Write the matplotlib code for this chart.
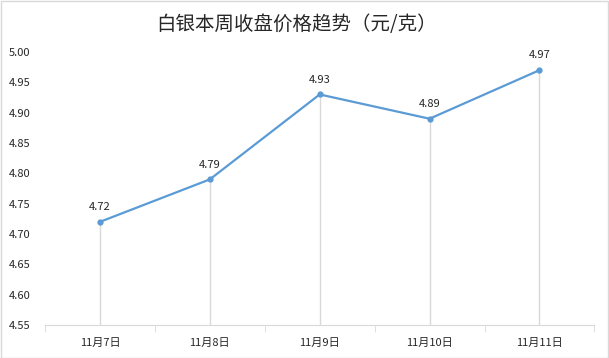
import matplotlib
matplotlib.use('Agg')
import matplotlib.pyplot as plt
import numpy as np

plt.rcParams['font.family'] = ['Noto Sans CJK SC', 'DejaVu Sans']

dates = ['11月7日', '11月8日', '11月9日', '11月10日', '11月11日']
prices = [4.72, 4.79, 4.93, 4.89, 4.97]
y_ticks = [4.55, 4.60, 4.65, 4.70, 4.75, 4.80, 4.85, 4.90, 4.95, 5.00]

fig = plt.figure(figsize=(6.09, 3.58), dpi=100)
ax = fig.add_axes([0.0739, 0.0922, 0.9021, 0.7626])

x = np.arange(len(dates))
ax.vlines(x, 4.55, prices, color='#d9d9d9', linewidth=1, zorder=1)
ax.plot(x, prices, color='#5b9bd5', linewidth=1.6, marker='o', markersize=3.5, zorder=3)
for xi, p in zip(x, prices):
    ax.annotate(f'{p:.2f}', (xi, p), xytext=(0, 7), textcoords='offset points',
                ha='center', va='bottom', fontsize=8, color='#262626')

ax.set_xlim(-0.5, len(dates) - 0.5)
ax.set_ylim(4.55, 5.00)
ax.set_yticks(y_ticks)
ax.set_yticklabels([f'{v:.2f}' for v in y_ticks], fontsize=8, color='#262626')
ax.set_xticks(x)
ax.set_xticklabels(dates, fontsize=8, color='#262626')
ax.set_xticks(np.arange(-0.5, len(dates)), minor=True)
ax.tick_params(axis='x', which='major', length=0, pad=9)
ax.tick_params(axis='x', which='minor', length=5, color='#d9d9d9', direction='out')
ax.tick_params(axis='y', length=0, pad=26)
for s in ['top', 'right', 'left']:
    ax.spines[s].set_visible(False)
ax.spines['bottom'].set_color('#d9d9d9')
for lbl in ax.get_yticklabels():
    lbl.set_horizontalalignment('left')

fig.suptitle('白银本周收盘价格趋势（元/克）', x=0.487, y=0.96, fontsize=14, color='#262626')

border = plt.Rectangle((0.001, 0.001), 0.997, 0.996, transform=fig.transFigure,
                       fill=False, edgecolor='#d9d9d9', linewidth=1)
fig.patches.append(border)

fig.savefig('out.png', dpi=100)
